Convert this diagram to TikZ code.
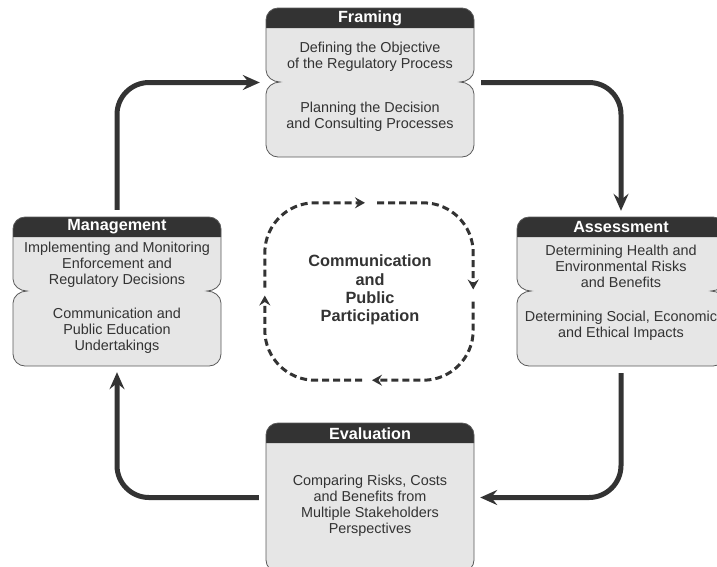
\documentclass[tikz,border=0pt]{standalone}
\usepackage{fontspec}
\setmainfont{Liberation Sans}
\usetikzlibrary{arrows.meta}

\definecolor{stagegray}{HTML}{E6E6E6}
\definecolor{stagedark}{HTML}{333333}
\definecolor{stageline}{HTML}{5A5A5A}

\tikzset{
  stagearea/.style={minimum width=208pt,minimum height=149pt,inner sep=0pt},
  ringarea/.style={minimum width=208pt,minimum height=177pt,inner sep=0pt},
  headtext/.style={text=white,inner sep=0pt,font=\fontsize{16.2}{18}\selectfont\bfseries},
  bodytext/.style={text=stagedark,align=center,inner sep=0pt,font=\fontsize{14.4}{16}\selectfont},
  commtext/.style={text=stagedark,align=center,inner sep=0pt,font=\fontsize{16.3}{18.3}\selectfont\bfseries},
  cyclearrow/.style={draw=stagedark,line width=5pt,rounded corners=32pt,
    -{Stealth[length=17pt,width=15pt,inset=6pt]}},
  commline/.style={draw=stagedark,line width=3pt,dash pattern=on 7pt off 4pt,
    rounded corners=50pt,-{Stealth[length=10pt,width=11pt,inset=3.5pt]}},
}

\begin{document}
\begin{tikzpicture}[x=1pt,y=-1pt]
  \useasboundingbox (0,0) rectangle (717,566);
  % box outline with side notches, head band
  \def\stageshape#1#2{(#1,#2+12) arc[start angle=180,end angle=270,radius=12]
    -- (#1+196,#2) arc[start angle=270,end angle=360,radius=12]
    -- (#1+208,#2+62) .. controls (#1+208,#2+69) and (#1+201,#2+74) .. (#1+194,#2+74)
    .. controls (#1+201,#2+74) and (#1+208,#2+79) .. (#1+208,#2+86)
    -- (#1+208,#2+137) arc[start angle=0,end angle=90,radius=12]
    -- (#1+12,#2+149) arc[start angle=90,end angle=180,radius=12]
    -- (#1,#2+86) .. controls (#1,#2+79) and (#1+7,#2+74) .. (#1+14,#2+74)
    .. controls (#1+7,#2+74) and (#1,#2+69) .. (#1,#2+62) -- cycle}
  \def\stagehead#1#2{(#1,#2+20) -- (#1,#2+12) arc[start angle=180,end angle=270,radius=12]
    -- (#1+196,#2) arc[start angle=270,end angle=360,radius=12] -- (#1+208,#2+20) -- cycle}

  % framing
  \fill[stagegray] \stageshape{266}{8};
  \fill[stagedark] \stagehead{266}{8};
  \draw[stageline,line width=0.8pt] \stageshape{266}{8};
  \node[stagearea] (framing) at (370,82.5) {};
  \node[headtext] (framingtitle) at (370,18.5) {Framing};
  \node[bodytext] (framingtop) at (370,57) {Defining the Objective\\of the Regulatory Process};
  \node[bodytext] (framingbottom) at (370,117) {Planning the Decision\\and Consulting Processes};

  % management
  \fill[stagegray] \stageshape{13}{217};
  \fill[stagedark] \stagehead{13}{217};
  \draw[stageline,line width=0.8pt] \stageshape{13}{217};
  \node[stagearea] (management) at (117,291.5) {};
  \node[headtext] (managementtitle) at (117,227) {Management};
  \node[bodytext] (managementtop) at (117,265) {Implementing and Monitoring\\Enforcement and\\Regulatory Decisions};
  \node[bodytext] (managementbottom) at (117,331) {Communication and\\Public Education\\Undertakings};

  % assessment
  \fill[stagegray] \stageshape{517}{217};
  \fill[stagedark] \stagehead{517}{217};
  \draw[stageline,line width=0.8pt] \stageshape{517}{217};
  \node[stagearea] (assessment) at (621,291.5) {};
  \node[headtext] (assessmenttitle) at (621,227) {Assessment};
  \node[bodytext] (assessmenttop) at (621,266) {Determining Health and\\Environmental Risks\\and Benefits};
  \node[bodytext] (assessmentbottom) at (621,326) {Determining Social, Economic\\and Ethical Impacts};

  % evaluation
  \fill[stagegray,rounded corners=12pt] (266,423) rectangle (474,572);
  \fill[stagedark] \stagehead{266}{423};
  \draw[stageline,line width=0.8pt,rounded corners=12pt] (266,423) rectangle (474,572);
  \node[stagearea] (evaluation) at (370,497.5) {};
  \node[headtext] (evaluationtitle) at (370,433.5) {Evaluation};
  \node[bodytext] (evaluationtext) at (370,506) {Comparing Risks, Costs\\and Benefits from\\Multiple Stakeholders\\Perspectives};

  % main cycle
  \draw[cyclearrow] ([yshift=7pt]management.north) |- ([xshift=-6pt]framing.west);
  \draw[cyclearrow] ([xshift=7pt]framing.east) -| ([yshift=6pt]assessment.north);
  \draw[cyclearrow] ([yshift=-7pt]assessment.south) |- ([xshift=6pt]evaluation.east);
  \draw[cyclearrow] ([xshift=-7pt]evaluation.west) -| ([yshift=-6pt]management.south);

  % communication ring
  \node[ringarea] (ring) at (369,291.5) {};
  \node[commtext] (comm) at (370,290) {Communication\\and\\Public\\Participation};
  \draw[commline] ([yshift=4pt]ring.west) |- ([xshift=-4pt]ring.north);
  \draw[commline] ([xshift=8pt]ring.north) -| ([yshift=2pt]ring.east);
  \draw[commline] ([yshift=-10pt]ring.east) |- ([xshift=3pt]ring.south);
  \draw[commline] ([xshift=-7pt]ring.south) -| ([yshift=-4pt]ring.west);
\end{tikzpicture}
\end{document}
